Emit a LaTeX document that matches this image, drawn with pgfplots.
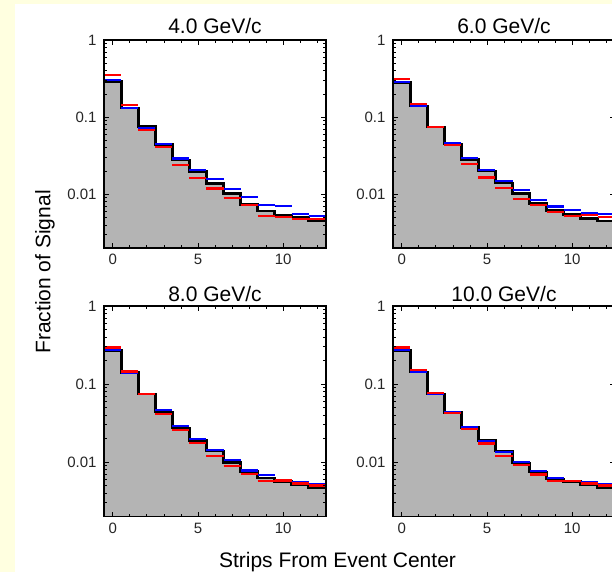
\documentclass[border=0pt]{standalone}
\usepackage{pgfplots}
\pgfplotsset{compat=1.18}
\usepackage{pgfplotstable}
\usepackage{fontspec}
\setmainfont{Liberation Sans}
\definecolor{bgyellow}{RGB}{255,255,224}
\definecolor{histgray}{RGB}{180,180,180}
\newcommand{\tl}{\fontsize{15}{17}\selectfont}

% x = left bin edge; k = black (filled), b = blue, r = red
\pgfplotstableread{
x     k       b       r
-0.5  0.290   0.301   0.350
0.5   0.132   0.1325  0.145
1.5   0.0756  0.0720  0.0690
2.5   0.0443  0.0450  0.0406
3.5   0.0278  0.0292  0.0242
4.5   0.0198  0.0208  0.0162
5.5   0.0138  0.0160  0.0119
6.5   0.0102  0.01175 0.00906
7.5   0.0074  0.00925 0.0072
8.5   0.00608 0.00727 0.00523
9.5   0.00533 0.00699 0.00512
10.5  0.00507 0.00561 0.00482
11.5  0.00459 0.00523 0.00482
12.5  0.00459 0.00523 0.00482
}\dataA

\pgfplotstableread{
x     k       b       r
-0.5  0.280   0.286   0.310
0.5   0.139   0.139   0.1465
1.5   0.0750  0.0740  0.0741
2.5   0.0450  0.0464  0.0432
3.5   0.0284  0.0295  0.0249
4.5   0.0200  0.0208  0.0165
5.5   0.0141  0.0148  0.0121
6.5   0.0102  0.0113  0.0087
7.5   0.00757 0.00837 0.00727
8.5   0.0062  0.00698 0.00595
9.5   0.0055  0.0062  0.00523
10.5  0.00488 0.00572 0.00538
11.5  0.0045  0.0055  0.00507
12.5  0.0045  0.0055  0.00507
}\dataB

\pgfplotstableread{
x     k       b       r
-0.5  0.270   0.275   0.294
0.5   0.140   0.140   0.145
1.5   0.0745  0.0750  0.0737
2.5   0.0438  0.0459  0.0416
3.5   0.0275  0.0286  0.0257
4.5   0.0189  0.0195  0.0177
5.5   0.0138  0.01425 0.0120
6.5   0.0099  0.0105  0.0089
7.5   0.00758 0.0078  0.00708
8.5   0.00623 0.00675 0.00565
9.5   0.00565 0.00593 0.0058
10.5  0.00512 0.00548 0.0053
11.5  0.00473 0.00527 0.00501
12.5  0.00473 0.00527 0.00501
}\dataC

\pgfplotstableread{
x     k       b       r
-0.5  0.270   0.275   0.294
0.5   0.1425  0.1425  0.1495
1.5   0.0745  0.0754  0.0766
2.5   0.0430  0.0438  0.0420
3.5   0.0277  0.0281  0.0265
4.5   0.0189  0.0184  0.0173
5.5   0.0138  0.0133  0.0118
6.5   0.0097  0.0099  0.00923
7.5   0.0074  0.00758 0.00693
8.5   0.0061  0.00623 0.0057
9.5   0.0056  0.00575 0.00565
10.5  0.00512 0.00554 0.0053
11.5  0.00473 0.0052  0.0050
12.5  0.00473 0.0052  0.0050
}\dataD

\pgfplotsset{
  histpanel/.style={
    scale only axis, width=221.4pt,
    anchor=north west,
    log origin y=infty,
    xmin=-0.5, xmax=12.5, ymin=0.002, ymax=1,
    xtick={0,5,10}, xticklabels={{\tl 0},{\tl 5},{\tl 10}},
    minor xtick={1,2,3,4,6,7,8,9,11,12},
    ytick={0.01,0.1,1}, yticklabels={{\tl 0.01},{\tl 0.1},{\tl 1}},
    minor ytick={0.002,0.003,0.004,0.005,0.006,0.007,0.008,0.009,0.02,0.03,0.04,0.05,0.06,0.07,0.08,0.09,0.2,0.3,0.4,0.5,0.6,0.7,0.8,0.9},
    tick align=inside,
    major tick length=5pt, minor tick length=3pt,
    tick style={black, line width=0.8pt},
    axis line style={line width=1.8pt},
    tick label style={font=\tl, text=black!85, inner sep=0pt},
    yticklabel style={xshift=-7.6pt},
    xticklabel style={yshift=-6pt},
    axis on top,
    title style={font=\fontsize{21}{25}\selectfont, at={(0.5,1)}, anchor=base},
  },
}

\begin{document}
\begin{tikzpicture}
\fill[bgyellow] (0,0) rectangle (612pt,-572pt);
\fill[white] (15pt,-4pt) rectangle (612pt,-572pt);

\begin{semilogyaxis}[histpanel, height=208.3pt, at={(104.3pt,-40pt)}, title={4.0 GeV/c}, title style={yshift=1pt}]
\addplot[fill=histgray, draw=none, const plot mark left] table[x=x,y=k] {\dataA} \closedcycle;
\addplot[black, line width=2.4pt, const plot mark left] table[x=x,y=k] {\dataA};
\addplot[blue, line width=2.2pt, jump mark left] table[x=x,y=b] {\dataA};
\addplot[red, line width=2.2pt, jump mark left] table[x=x,y=r] {\dataA};
\end{semilogyaxis}

\begin{semilogyaxis}[histpanel, height=208.3pt, at={(393.3pt,-40pt)}, title={6.0 GeV/c}, title style={yshift=1pt}]
\addplot[fill=histgray, draw=none, const plot mark left] table[x=x,y=k] {\dataB} \closedcycle;
\addplot[black, line width=2.4pt, const plot mark left] table[x=x,y=k] {\dataB};
\addplot[blue, line width=2.2pt, jump mark left] table[x=x,y=b] {\dataB};
\addplot[red, line width=2.2pt, jump mark left] table[x=x,y=r] {\dataB};
\end{semilogyaxis}

\begin{semilogyaxis}[histpanel, height=210.5pt, at={(104.3pt,-306pt)}, title={8.0 GeV/c}, title style={yshift=-1.5pt}]
\addplot[fill=histgray, draw=none, const plot mark left] table[x=x,y=k] {\dataC} \closedcycle;
\addplot[black, line width=2.4pt, const plot mark left] table[x=x,y=k] {\dataC};
\addplot[blue, line width=2.2pt, jump mark left] table[x=x,y=b] {\dataC};
\addplot[red, line width=2.2pt, jump mark left] table[x=x,y=r] {\dataC};
\end{semilogyaxis}

\begin{semilogyaxis}[histpanel, height=210.5pt, at={(393.3pt,-306pt)}, title={10.0 GeV/c}, title style={yshift=-1.5pt}]
\addplot[fill=histgray, draw=none, const plot mark left] table[x=x,y=k] {\dataD} \closedcycle;
\addplot[black, line width=2.4pt, const plot mark left] table[x=x,y=k] {\dataD};
\addplot[blue, line width=2.2pt, jump mark left] table[x=x,y=b] {\dataD};
\addplot[red, line width=2.2pt, jump mark left] table[x=x,y=r] {\dataD};
\end{semilogyaxis}

\node[font=\fontsize{21}{25}\selectfont, anchor=base] at (337.5pt,-567pt) {Strips From Event Center};
\node[font=\fontsize{21}{25}\selectfont, rotate=90, anchor=center] at (45pt,-272pt) {Fraction of Signal};

\pgfresetboundingbox
\path[use as bounding box] (0,0) rectangle (612pt,-572pt);
\end{tikzpicture}
\end{document}
